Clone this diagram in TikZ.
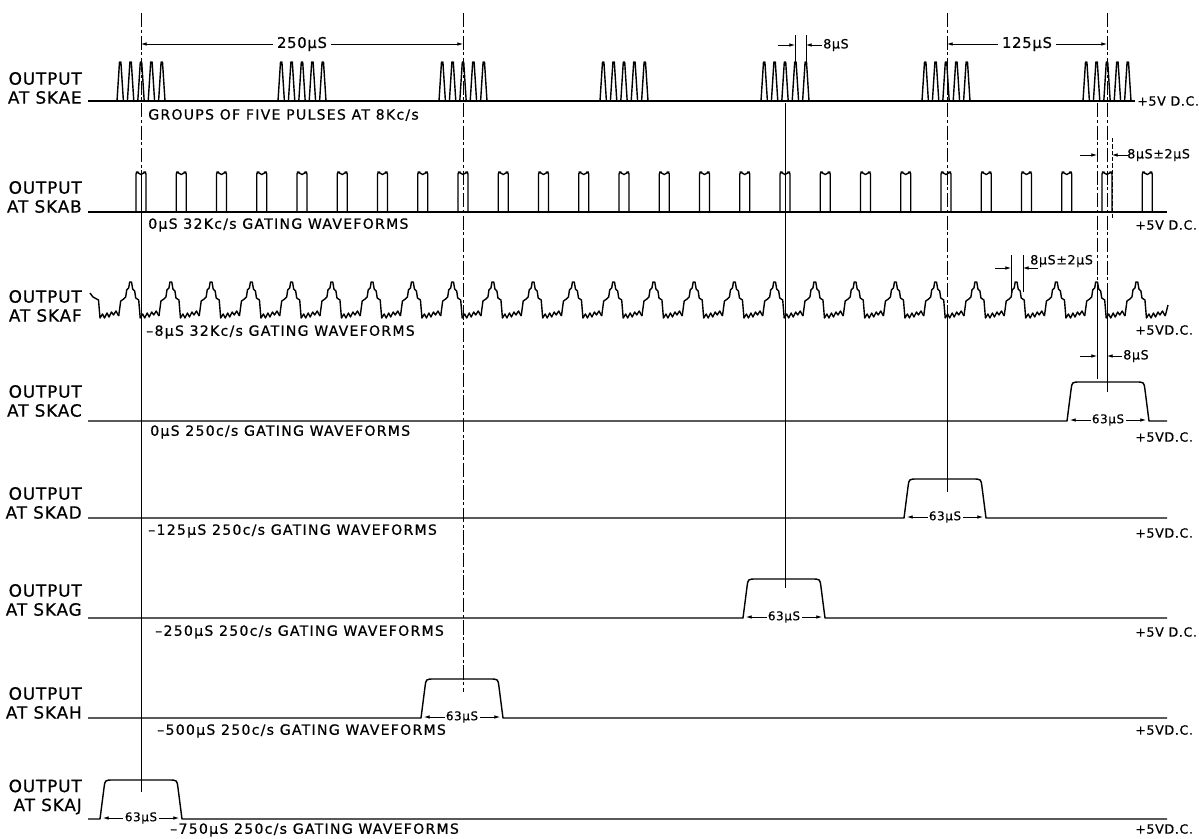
\documentclass[tikz,border=0pt]{standalone}
\usepackage{fontspec}
\setmainfont{DejaVu Sans}
\newfontfamily\wideletters[LetterSpace=9,FakeBold=0.6]{DejaVu Sans}
\newfontfamily\drafting[LetterSpace=5,FakeBold=0.6]{DejaVu Sans}
\usetikzlibrary{arrows.meta}

% 250c/s gating pulse: centre, baseline, name of its width label
\newcommand*{\GatePulse}[3]{%
   \draw[wave] (88,#2) -- (#1-41,#2) -- (#1-37,#2-31)
      .. controls (#1-36,#2-39) .. (#1-28,#2-39) -- (#1+28,#2-39)
      .. controls (#1+36,#2-39) .. (#1+37,#2-31) -- (#1+41,#2) -- (1167,#2);
   \draw[dimarrow] (#1-38,#2-1) -- node[fill=white, inner sep=1pt, font=\drafting\fontsize{8.5}{9}\selectfont] (#3) {63µS} (#1+38,#2-1);}

\begin{document}
\begin{tikzpicture}[x=0.025cm, y=-0.025cm,
   wave/.style={line width=1pt, line join=round},
   timeline/.style={line width=0.7pt},
   centreline/.style={line width=0.7pt, dash pattern=on 10pt off 2pt on 2pt off 2pt},
   dimarrow/.style={line width=0.5pt, {Latex[length=4pt,width=2.5pt]}-{Latex[length=4pt,width=2.5pt]}},
   onearrow/.style={line width=0.5pt, -{Latex[length=4pt,width=2.5pt]}},
   lab/.style={font=\drafting\fontsize{12}{13.5}\selectfont, align=right, anchor=east, inner sep=0pt},
   sub/.style={font=\wideletters\fontsize{10}{11}\selectfont, anchor=west, inner sep=0pt},
   dc/.style={font=\drafting\fontsize{9}{10}\selectfont, anchor=west, inner sep=0pt}]
            \fill[white] (0,0) rectangle (1199,838);
            \useasboundingbox (0,0) rectangle (1199,838);

            % row labels
            \node[lab] (labAE) at (82,88) {OUTPUT\\AT SKAE};
            \node[lab] (labAB) at (82,197) {OUTPUT\\AT SKAB};
            \node[lab] (labAF) at (82,306) {OUTPUT\\AT SKAF};
            \node[lab] (labAC) at (82,401) {OUTPUT\\AT SKAC};
            \node[lab] (labAD) at (82,503) {OUTPUT\\AT SKAD};
            \node[lab] (labAG) at (82,600) {OUTPUT\\AT SKAG};
            \node[lab] (labAH) at (82,703) {OUTPUT\\AT SKAH};
            \node[lab] (labAJ) at (82,797) {OUTPUT\\AT SKAJ};

            % timing lines
            \draw[centreline] (141,13) -- (141,170);
            \draw[timeline] (141,170) -- (141,792);
            \draw[centreline] (463,13) -- (463,692);
            \draw[timeline] (785,103) -- (785,588);
            \draw[centreline] (947,13) -- (947,320);
            \draw[timeline] (947,320) -- (947,492);
            \draw[centreline] (1107,13) -- (1107,290);
            \draw[timeline] (1107,290) -- (1107,392);
            \draw[centreline] (1097,103) -- (1097,290);
            \draw[timeline] (1097,290) -- (1097,379);

            % SKAE: groups of five pulses
            \draw[wave] (88,101) -- (1135,101);
            \foreach \g in {0,...,6}{
              \foreach \i in {-2,...,2}{
                \pgfmathsetmacro{\X}{141+161*\g+10.4*\i}
                \draw[wave] (\X-3.2,101) -- (\X-0.7,62) -- (\X+0.7,62) -- (\X+3.2,101);
              }
            }
            \draw[dimarrow] (141,44) -- node[fill=white, inner sep=3pt, font=\drafting\fontsize{10.5}{11}\selectfont] (t250) {250µS} (463,44);
            \draw[dimarrow] (947,44) -- node[fill=white, inner sep=3pt, font=\drafting\fontsize{10.5}{11}\selectfont] (t125) {125µS} (1107,44);
            \draw[line width=0.5pt] (795,35) -- (795,62) (806,35) -- (806,62);
            \draw[onearrow] (778,45) -- (795,45);
            \draw[onearrow] (822,45) -- (806,45);
            \node[dc] (t8a) at (823,45) {8µS};
            \node[sub] (subAE) at (148,115) {GROUPS OF FIVE PULSES AT 8Kc/s};
            \node[dc] (dcAE) at (1137,101) {+5V D.C.};

            % SKAB: 32Kc/s square pulses
            \draw[wave] (88,212) -- (1167,212);
            \foreach \k in {0,...,25}{
              \pgfmathsetmacro{\X}{141+40.25*\k}
              \draw[wave, rounded corners=1.5] (\X-5,212) -- (\X-5,172) -- (\X-2.5,172) -- (\X,175.5) -- (\X+2.5,172) -- (\X+5,172) -- (\X+5,212);
            }
            \draw[line width=0.5pt, dash pattern=on 3pt off 1.5pt] (1112,138) -- (1112,218);
            \draw[onearrow] (1080,155) -- (1097,155);
            \draw[onearrow] (1128,155) -- (1112,155);
            \node[dc] (t8b) at (1127,155) {8µS±2µS};
            \node[sub] (subAB) at (148,225) {0µS 32Kc/s GATING WAVEFORMS};
            \node[dc] (dcAB) at (1135,225) {+5V D.C.};

            % SKAF: -8us 32Kc/s waveform
            \draw[wave] (90,293) -- (93,297) -- (98.5,300) -- (100,318) -- (102.5,314) -- (104.5,318) -- (107,313) -- (109,317) -- (111.5,312) -- (113.5,315) -- (116,311) -- (118.7,316);
            \foreach \k in {0,...,25}{
              \pgfmathsetmacro{\P}{130.7+40.25*\k}
              \draw[wave] (\P-12,316) -- (\P-10,301) -- (\P-7,299) -- (\P-5,297) -- (\P-4,290) -- (\P-2,288) -- (\P-1,282) -- (\P+0.8,282) -- (\P+2,289) -- (\P+4,291) -- (\P+5,298) -- (\P+8,300) -- (\P+9.5,318) -- (\P+12,314) -- (\P+14,318) -- (\P+16.5,313) -- (\P+18.5,317) -- (\P+21,312) -- (\P+23,315) -- (\P+25.5,311) -- (\P+28.25,316);
            }
            \draw[wave] (1165.2,316) -- (1168,305);
            \draw[line width=0.5pt] (1011,255) -- (1011,292) (1023,255) -- (1023,292);
            \draw[onearrow] (995,268) -- (1011,268);
            \draw[onearrow] (1038,268) -- (1023,268);
            \node[dc] (t8c) at (1030,261) {8µS±2µS};
            \node[sub] (subAF) at (146,332) {–8µS 32Kc/s GATING WAVEFORMS};
            \node[dc] (dcAF) at (1135,330) {+5VD.C.};

            % 250c/s gating waveforms
            \GatePulse{1108}{421}{wAC}
            \draw[onearrow] (1080,356) -- (1097,356);
            \draw[onearrow] (1122,356) -- (1107,356);
            \node[dc] (t8d) at (1123,356) {8µS};
            \node[sub] (subAC) at (150,432) {0µS 250c/s GATING WAVEFORMS};
            \node[dc] (dcAC) at (1135,437) {+5VD.C.};

            \GatePulse{945}{518}{wAD}
            \node[sub] (subAD) at (148,531) {–125µS 250c/s GATING WAVEFORMS};
            \node[dc] (dcAD) at (1135,533) {+5VD.C.};

            \GatePulse{784}{618}{wAG}
            \node[sub] (subAG) at (155,632) {–250µS 250c/s GATING WAVEFORMS};
            \node[dc] (dcAG) at (1135,632) {+5V D.C.};

            \GatePulse{462}{718}{wAH}
            \node[sub] (subAH) at (157,731) {–500µS 250c/s GATING WAVEFORMS};
            \node[dc] (dcAH) at (1135,730) {+5VD.C.};

            \GatePulse{141}{819}{wAJ}
            \node[sub] (subAJ) at (170,830) {–750µS 250c/s GATING WAVEFORMS};
            \node[dc] (dcAJ) at (1135,829) {+5VD.C.};
          \end{tikzpicture}
\end{document}
